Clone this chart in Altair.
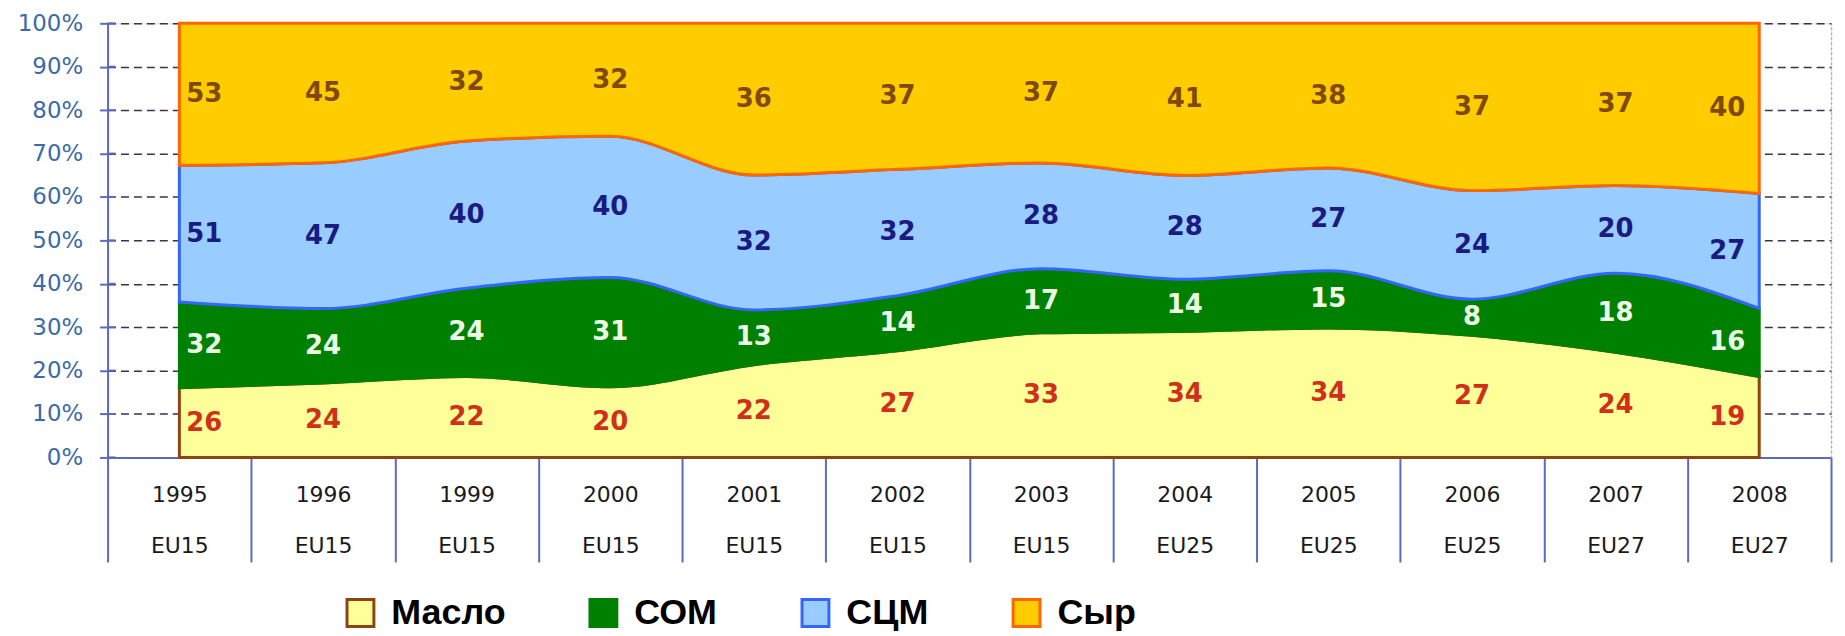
import altair as alt
import pandas as pd

# ---- data ----
YEARS = ["1995", "1996", "1999", "2000", "2001", "2002", "2003", "2004", "2005", "2006", "2007", "2008"]
REGIONS = ["EU15", "EU15", "EU15", "EU15", "EU15", "EU15", "EU15", "EU25", "EU25", "EU25", "EU27", "EU27"]
SERIES = ["Масло", "СОМ", "СЦМ", "Сыр"]
MASLO = [26, 24, 22, 20, 22, 27, 33, 34, 34, 27, 24, 19]
SOM = [32, 24, 24, 31, 13, 14, 17, 14, 15, 8, 18, 16]
SCM = [51, 47, 40, 40, 32, 32, 28, 28, 27, 24, 20, 27]
SYR = [53, 45, 32, 32, 36, 37, 37, 41, 38, 37, 37, 40]
Y_TICKS = [0, 0.1, 0.2, 0.3, 0.4, 0.5, 0.6, 0.7, 0.8, 0.9, 1.0]

# ---- styles ----
FILL_COLORS = ["#ffff99", "#008000", "#99ccff", "#ffcc00"]
STROKE_COLORS = ["#8b4513", "#008000", "#3366ff", "#ff6600"]
LABEL_COLORS = ["#d0301a", "#eefee6", "#1a1a80", "#7f4a08"]
AXIS_BLUE = "#5b6abf"

CATS = [f"{y} {r}" for y, r in zip(YEARS, REGIONS)]
values = [MASLO, SOM, SCM, SYR]
rows = []
for si, (name, vals) in enumerate(zip(SERIES, values)):
    for ci, (cat, v) in enumerate(zip(CATS, vals)):
        rows.append({"cat": cat, "ci": ci, "series": name, "idx": si, "value": v, "lc": LABEL_COLORS[si]})
df = pd.DataFrame(rows)
ticks_df = pd.DataFrame({"t": Y_TICKS})
LAST = len(CATS) - 1

x_enc = alt.X(
    "cat:N",
    sort=CATS,
    scale=alt.Scale(type="band", paddingInner=0, paddingOuter=0),
    bandPosition=0.5,
    axis=alt.Axis(
        title=None, orient="bottom", labelAngle=0,
        labelExpr="split(datum.label, ' ')",
        labelFont="DejaVu Sans", labelFontSize=22, labelColor="#1a1a1a",
        labelLineHeight=52, labelBaseline="top", labelPadding=-78,
        tickBand="extent", tickSize=105, tickColor=AXIS_BLUE, tickWidth=2,
        domainColor=AXIS_BLUE, domainWidth=2, grid=False,
    ),
)

base = alt.Chart(df).transform_stack(
    stack="value", groupby=["cat"], as_=["y0", "y1"], offset="normalize",
    sort=[alt.SortField("idx", order="ascending")],
).transform_calculate(mid="(datum.y0 + datum.y1) / 2")

legend = alt.Legend(
    orient="none", legendX=236, legendY=574, direction="horizontal", title=None,
    symbolType="square", symbolSize=729, symbolStrokeWidth=3, symbolOpacity=1,
    labelFont="Liberation Sans", labelFontWeight="bold", labelFontSize=36,
    labelColor="black", labelOffset=13, columnPadding=78, padding=0,
)

area = base.mark_area(interpolate="monotone", strokeWidth=3, opacity=1).encode(
    x=x_enc,
    y=alt.Y(
        "y1:Q", scale=alt.Scale(domain=[0, 1]),
        axis=alt.Axis(
            title=None, orient="left", values=Y_TICKS, format=".0%",
            labelFont="DejaVu Sans", labelFontSize=23, labelColor="#3c6aa6", labelPadding=17,
            tickSize=8, tickColor=AXIS_BLUE, tickWidth=2,
            domainColor=AXIS_BLUE, domainWidth=2,
            grid=True, gridDash=[8, 5], gridColor="#3f2f50", gridWidth=1.5, gridOpacity=1,
        ),
    ),
    y2="y0:Q",
    fill=alt.Fill("series:N", scale=alt.Scale(domain=SERIES, range=FILL_COLORS), legend=legend),
    stroke=alt.Stroke("series:N", scale=alt.Scale(domain=SERIES, range=STROKE_COLORS), legend=legend),
    order=alt.Order("idx:Q"),
)

right_axis = alt.Axis(
    title=None, orient="right", labels=False, ticks=False, grid=False,
    domain=True, domainColor="#aaaaaa", domainDash=[2, 3], domainWidth=1.5,
)


def label_layer(flt, align, dx, axis):
    return base.transform_filter(flt).mark_text(
        font="DejaVu Sans", fontWeight="bold", fontSize=26, align=align, dx=dx
    ).encode(
        x=x_enc,
        y=alt.Y("mid:Q", scale=alt.Scale(domain=[0, 1]), axis=axis),
        text="value:Q",
        color=alt.Color("lc:N", scale=None),
    )


labels_mid = label_layer(f"datum.ci > 0 && datum.ci < {LAST}", "center", 0, right_axis)
labels_first = label_layer("datum.ci == 0", "left", 7, None)
labels_last = label_layer(f"datum.ci == {LAST}", "right", -14, None)

inner_ticks = alt.Chart(ticks_df).mark_rule(color=AXIS_BLUE, strokeWidth=2).encode(
    y=alt.Y("t:Q", axis=None),
    x=alt.value(0),
    x2=alt.value(8),
)

chart = alt.layer(area, labels_mid, labels_first, labels_last, inner_ticks).resolve_axis(
    y="independent"
).properties(
    width=1731, height=436,
    autosize=alt.AutoSizeParams(type="none"),
    padding={"left": 100, "top": 14, "right": 6, "bottom": 180},
).configure_view(stroke=None).configure(background="white")

chart.save("out.html", embed_options={"renderer": "svg", "actions": False})
